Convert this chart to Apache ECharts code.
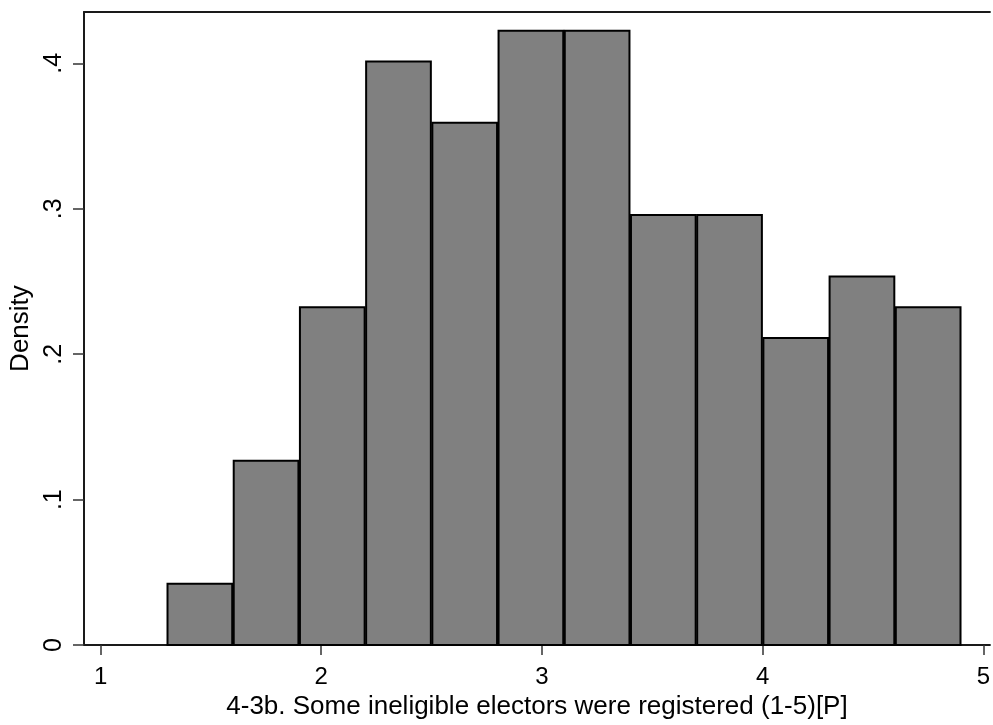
<!DOCTYPE html>
<html>
<head>
<meta charset="utf-8">
<script src="https://cdn.jsdelivr.net/npm/echarts@6/dist/echarts.min.js"></script>
<style>
html,body{margin:0;padding:0;background:#fff;}
#chart{width:993px;height:725px;}
</style>
</head>
<body>
<div id="chart"></div>
<script>
// Histogram bins (left and right edges) and density heights
const binStart = [1.3, 1.6, 1.9, 2.2, 2.5, 2.8, 3.1, 3.4, 3.7, 4.0, 4.3, 4.6];
const binEnd   = [1.6, 1.9, 2.2, 2.5, 2.8, 3.1, 3.4, 3.7, 4.0, 4.3, 4.6, 4.9];
const density  = [0.0422, 0.1267, 0.2323, 0.4013, 0.3591, 0.4224, 0.4224, 0.2957, 0.2957, 0.2112, 0.2535, 0.2323];
const xTicks = [1, 2, 3, 4, 5];
const yTicks = [0, 0.1, 0.2, 0.3, 0.4];
const xTitle = '4-3b. Some ineligible electors were registered (1-5)[P]';
const yTitle = 'Density';

const FONT = "'Liberation Sans', Arial, sans-serif";
const lineCol = '#1a1a1a';

const data = binStart.map((s, i) => [s, binEnd[i], density[i]]);

const chart = echarts.init(document.getElementById('chart'), null, {renderer: 'canvas'});
chart.setOption({
  animation: false,
  backgroundColor: '#ffffff',
  grid: {left: 83, top: 12, right: 0, bottom: 77, containLabel: false},
  xAxis: [{
    type: 'value',
    min: 0.925, max: 5.03,
    position: 'bottom',
    splitLine: {show: false},
    axisLine: {show: true, onZero: false, lineStyle: {color: lineCol, width: 2}},
    axisTick: {show: true, length: 10, inside: false, customValues: xTicks, lineStyle: {color: '#333', width: 1.5}},
    axisLabel: {show: true, customValues: xTicks, margin: 20, fontSize: 24, color: '#000', fontFamily: FONT,
      formatter: v => String(v)},
    name: xTitle,
    nameLocation: 'middle',
    nameGap: 45,
    nameTextStyle: {fontSize: 26, color: '#000', fontFamily: FONT, verticalAlign: 'top'}
  }, {
    type: 'value',
    min: 0.925, max: 5.03,
    position: 'top',
    splitLine: {show: false},
    axisLine: {show: true, onZero: false, lineStyle: {color: lineCol, width: 2}},
    axisTick: {show: false},
    axisLabel: {show: false}
  }],
  yAxis: {
    type: 'value',
    min: 0, max: 0.4353,
    splitLine: {show: false},
    axisLine: {show: true, onZero: false, lineStyle: {color: lineCol, width: 2}},
    axisTick: {show: true, length: 11, inside: false, customValues: yTicks, lineStyle: {color: '#333', width: 1.5}},
    axisLabel: {show: true, customValues: yTicks, rotate: 90, margin: 17, fontSize: 25, color: '#000', fontFamily: FONT,
      formatter: v => (v === 0 ? '0' : (Math.round(v * 10) / 10).toString().replace(/^0/, ''))},
    name: yTitle,
    nameLocation: 'middle',
    nameRotate: 90,
    nameGap: 50,
    nameTextStyle: {fontSize: 26, color: '#000', fontFamily: FONT}
  },
  series: [{
    type: 'custom',
    xAxisIndex: 0,
    yAxisIndex: 0,
    encode: {x: [0, 1], y: 2},
    data: data,
    renderItem: function (params, api) {
      const p0 = api.coord([api.value(0), 0]);
      const p1 = api.coord([api.value(1), api.value(2)]);
      return {
        type: 'rect',
        shape: {x: p0[0] + 0.75, y: p1[1], width: p1[0] - p0[0] - 1.5, height: p0[1] - p1[1]},
        style: {fill: '#808080', stroke: '#000', lineWidth: 2}
      };
    }
  }]
});
</script>
</body>
</html>
